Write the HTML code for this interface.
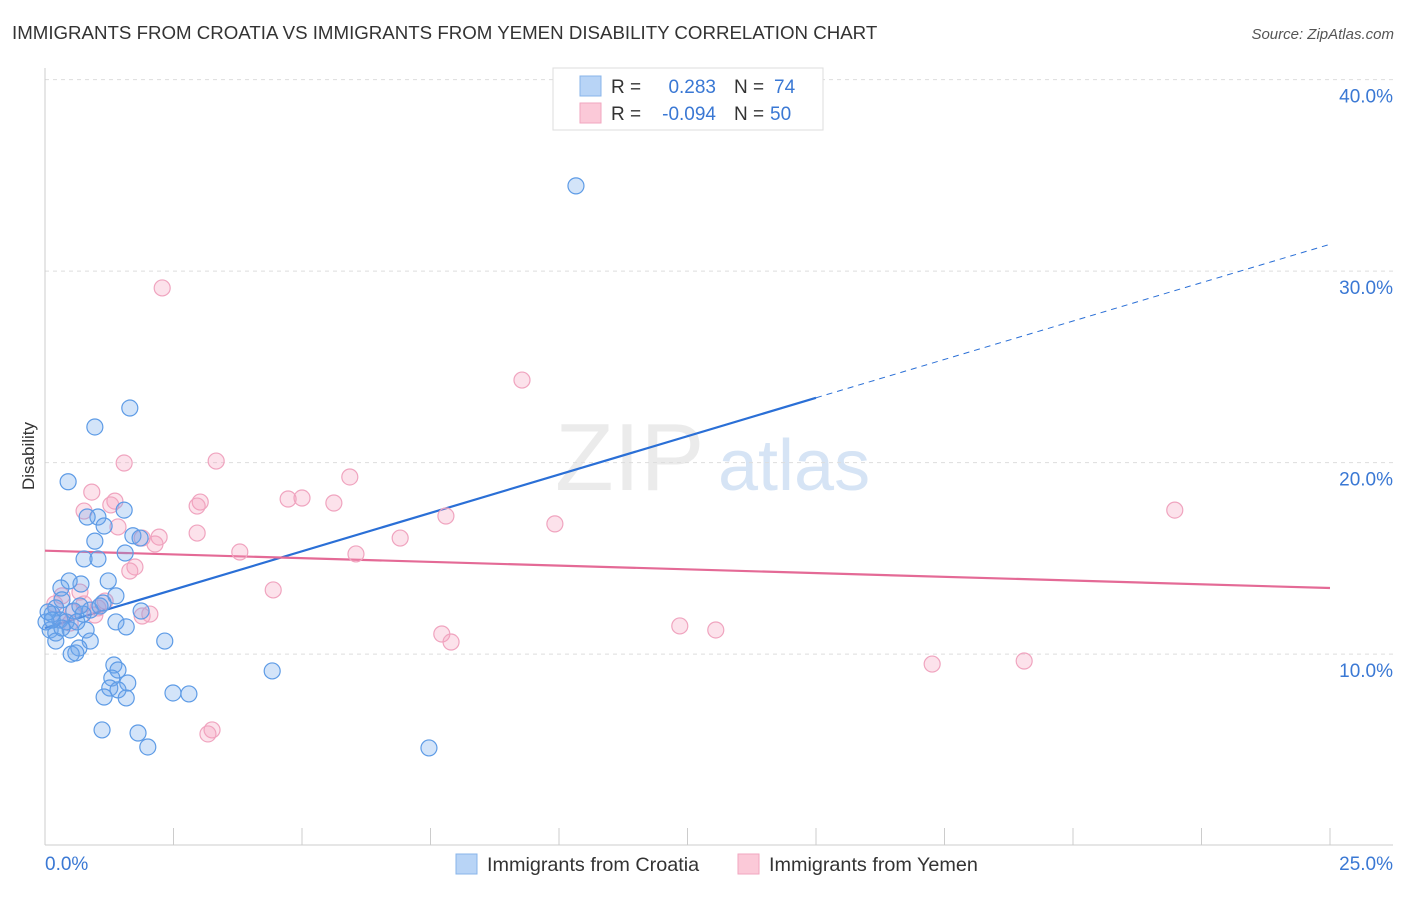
<!DOCTYPE html>
<html><head><meta charset="utf-8"><style>
body{margin:0;background:#fff;font-family:"Liberation Sans",sans-serif;}
svg text{font-family:"Liberation Sans",sans-serif;}
</style></head><body>
<svg id="chart" width="1406" height="892" viewBox="0 0 1406 892" xmlns="http://www.w3.org/2000/svg">
<text x="12" y="39" font-size="18.7" fill="#333">IMMIGRANTS FROM CROATIA VS IMMIGRANTS FROM YEMEN DISABILITY CORRELATION CHART</text>
<text x="1394" y="39" font-size="15" fill="#555" font-style="italic" text-anchor="end">Source: ZipAtlas.com</text>
<g>
<text x="555" y="490" font-size="96" fill="#ebebeb" font-family="Liberation Serif,serif">ZIP</text>
<text x="718" y="490" font-size="72" fill="#d6e4f5">atlas</text>
</g>
<g id="grid"></g>
<g id="axes"></g>
<g id="lines"></g>
<g id="pts"></g>
<text transform="translate(34,456) rotate(-90)" font-size="17" fill="#333" text-anchor="middle">Disability</text>
<g>
<rect x="553" y="68" width="270" height="62" fill="#fff" stroke="#ddd"/>
<rect x="580" y="76" width="21" height="20" fill="#b8d4f6" stroke="#88b4ea"/>
<rect x="580" y="103" width="21" height="20" fill="#fbc9d8" stroke="#f2a6bf"/>
<text x="611" y="93" font-size="19" fill="#333">R =</text>
<text x="716" y="93" font-size="19" fill="#3a78d4" text-anchor="end">0.283</text>
<text x="734" y="93" font-size="19" fill="#333">N =</text>
<text x="774" y="93" font-size="19" fill="#3a78d4">74</text>
<text x="611" y="120" font-size="19" fill="#333">R =</text>
<text x="716" y="120" font-size="19" fill="#3a78d4" text-anchor="end">-0.094</text>
<text x="734" y="120" font-size="19" fill="#333">N =</text>
<text x="770" y="120" font-size="19" fill="#3a78d4">50</text>
</g>
<g>
<rect x="456" y="854" width="21" height="20" fill="#b8d4f6" stroke="#88b4ea"/>
<text x="487" y="871" font-size="19.8" fill="#333">Immigrants from Croatia</text>
<rect x="738" y="854" width="21" height="20" fill="#fbc9d8" stroke="#f2a6bf"/>
<text x="769" y="871" font-size="19.8" fill="#333">Immigrants from Yemen</text>
</g>
</svg>
<script>
const yTicks=[10,20,30,40];
const yTickLabels=["10.0%","20.0%","30.0%","40.0%"];
const xTickLabels=["0.0%","25.0%"];
const croatiaX=[10.33,1.65,0.97,0.45,1.54,1.03,0.82,1.15,0.97,1.71,1.85,1.56,0.76,1.03,1.23,0.70,0.47,0.31,1.38,0.33,1.13,0.88,0.21,0.56,1.87,0.74,0.14,0.29,1.38,1.58,0.80,0.49,0.10,0.21,0.88,0.21,2.33,0.66,0.51,0.60,1.34,1.42,4.42,1.30,1.61,1.26,1.42,2.49,2.80,1.15,1.58,1.11,1.81,2.0,7.47,0.02,0.06,0.41,0.62,0.33,0.14,1.07,0.68];
const croatiaY=[34.45,22.85,21.86,19.0,17.52,17.16,17.16,16.69,15.9,16.18,16.06,15.28,14.97,14.97,13.82,13.66,13.82,13.45,13.04,12.83,12.67,12.3,12.41,12.25,12.25,12.09,12.09,11.78,11.68,11.42,11.26,11.26,11.26,11.1,10.68,10.68,10.68,10.32,10.0,10.06,9.43,9.17,9.12,8.75,8.49,8.23,8.13,7.97,7.92,7.76,7.71,6.04,5.88,5.15,5.10,11.68,12.2,11.68,11.68,11.36,11.78,12.51,12.51];
const yemenX=[2.28,9.28,1.54,3.33,5.93,0.91,1.36,1.28,3.02,2.96,5.0,4.73,5.62,0.76,7.8,9.92,21.98,1.42,2.96,1.89,2.22,2.14,6.91,3.79,6.05,1.75,1.65,4.44,0.68,0.33,1.17,2.04,1.89,0.97,0.54,0.19,7.72,7.9,12.35,13.05,17.26,19.05,3.25,3.17,0.29,0.49,0.76,1.03];
const yemenY=[29.12,24.31,19.98,20.08,19.25,18.46,17.99,17.79,17.94,17.73,18.15,18.1,17.89,17.47,17.21,16.8,17.52,16.64,16.32,16.06,16.11,15.75,16.06,15.33,15.23,14.55,14.34,13.35,13.24,13.04,12.77,12.09,11.99,12.04,12.2,12.62,11.05,10.63,11.47,11.26,9.48,9.64,6.04,5.83,11.78,11.62,12.62,12.41];
const croatiaTrend=[11.36,31.4];
const yemenTrend=[15.4,13.45];
const NS="http://www.w3.org/2000/svg";
const X0=45,X1=1330,Y0=845.6,PY=19.15;
function sx(v){return X0+(X1-X0)*v/25;}
function sy(v){return Y0-v*PY;}
function mk(tag,attrs,parent){const e=document.createElementNS(NS,tag);for(const k in attrs)e.setAttribute(k,attrs[k]);parent.appendChild(e);return e;}
const grid=document.getElementById('grid'),axes=document.getElementById('axes'),lines=document.getElementById('lines'),pts=document.getElementById('pts');
yTicks.forEach((t,i)=>{
 const l=mk('line',{x1:45,x2:1393,y1:sy(t),y2:sy(t),stroke:'#ddd','stroke-dasharray':'4,4'},grid);
 
 
 const tx=mk('text',{x:1393,y:sy(t)+23,'font-size':19,fill:'#3a78d4','text-anchor':'end'},axes);
 tx.textContent=yTickLabels[i];
 
 
});
let a=mk('line',{x1:45,x2:45,y1:68,y2:845,stroke:'#ccc'},axes);


a=mk('line',{x1:45,x2:1393,y1:845,y2:845,stroke:'#ccc'},axes);


for(let i=0;i<=10;i++){
 const t=mk('line',{x1:sx(i*2.5),x2:sx(i*2.5),y1:828,y2:845,stroke:'#ccc'},axes);
 
 
}
let xl=mk('text',{x:45,y:870,'font-size':19,fill:'#3a78d4'},axes);xl.textContent=xTickLabels[0];


xl=mk('text',{x:1393,y:870,'font-size':19,fill:'#3a78d4','text-anchor':'end'},axes);xl.textContent=xTickLabels[1];


function plot(xs,ys,fill,stroke,name){
 xs.forEach((v,i)=>{
  const c=mk('circle',{cx:sx(v),cy:sy(ys[i]),r:8,fill:fill,stroke:stroke,'stroke-width':1.2},pts);
  
  
 });
}
plot(yemenX,yemenY,'rgba(244,160,190,0.3)','#f0a4bf','point-yemen');
plot(croatiaX,croatiaY,'rgba(110,165,235,0.3)','#5d9be6','point-croatia');
const bx=15;
const slope=(croatiaTrend[1]-croatiaTrend[0])/25;
let ln=mk('line',{x1:sx(0),y1:sy(croatiaTrend[0]),x2:sx(bx),y2:sy(croatiaTrend[0]+slope*bx),stroke:'#2a6fd6','stroke-width':2.2},lines);


ln=mk('line',{x1:sx(bx),y1:sy(croatiaTrend[0]+slope*bx),x2:sx(25),y2:sy(croatiaTrend[1]),stroke:'#2a6fd6','stroke-width':1,'stroke-dasharray':'6,5'},lines);


ln=mk('line',{x1:sx(0),y1:sy(yemenTrend[0]),x2:sx(25),y2:sy(yemenTrend[1]),stroke:'#e46a96','stroke-width':2.2},lines);


</script>
</body></html>
